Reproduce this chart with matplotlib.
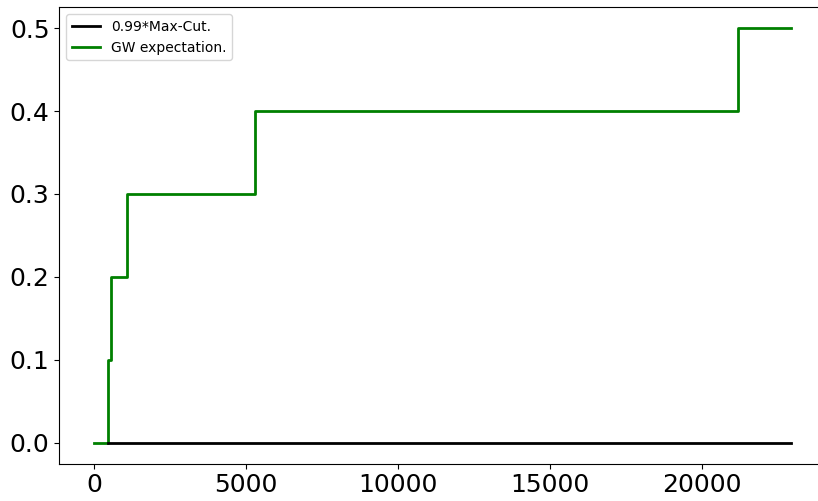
import numpy as np
import matplotlib
matplotlib.use('Agg')
import matplotlib.pyplot as plt

# step points (iteration, value)
gw_x = [0, 460, 550, 1075, 5300, 21170, 22920]
gw_y = [0.0, 0.1, 0.2, 0.3, 0.4, 0.5, 0.5]

cut_x = [460, 22920]
cut_y = [0.0, 0.0]

fig = plt.figure(figsize=(8.18, 5.01), dpi=100)
ax = fig.add_axes([0.0725, 0.0744, 0.937, 0.9111])

ax.step(gw_x, gw_y, where='post', color='green', lw=2, label='GW expectation.')
ax.plot(cut_x, cut_y, color='black', lw=2, label='0.99*Max-Cut.')

handles, labels = ax.get_legend_handles_labels()
ax.legend(handles[::-1], labels[::-1], loc='upper left', fontsize=10)

ax.tick_params(labelsize=18)
ax.set_yticks([0.0, 0.1, 0.2, 0.3, 0.4, 0.5])

plt.savefig('out.png')
